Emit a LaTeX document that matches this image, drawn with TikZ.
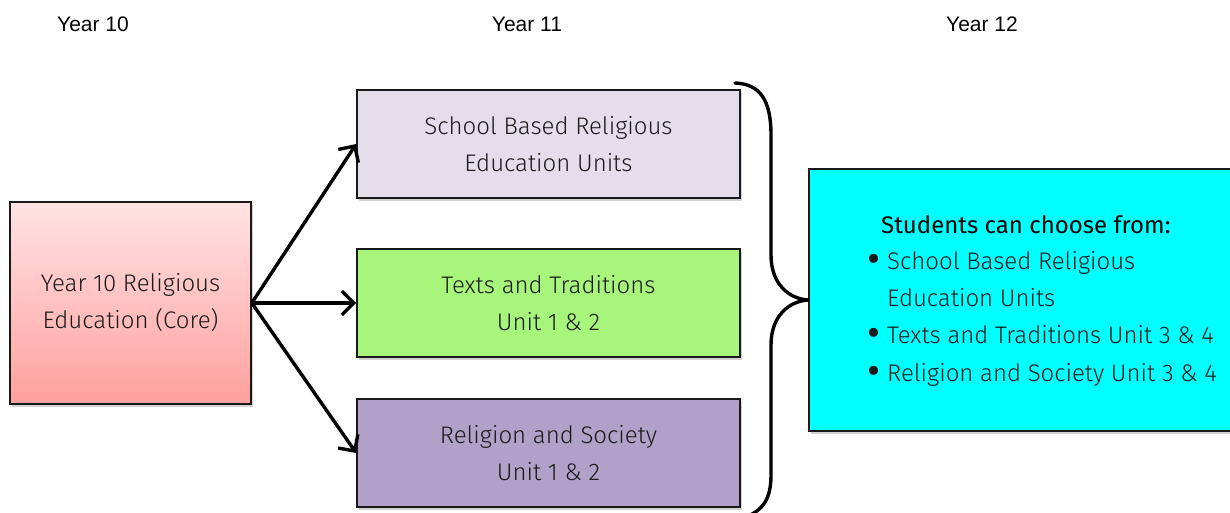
\documentclass[tikz,border=0pt]{standalone}
\usepackage{fontspec}
\setmainfont{Fira Sans}[UprightFont=* Light, BoldFont=*]
\newfontfamily\headfont{Liberation Sans}
\newfontfamily\titlefont{Fira Sans}
\usetikzlibrary{arrows.meta,shadows}
\definecolor{pinktop}{HTML}{FFE3E3}
\definecolor{pinkbot}{HTML}{FFA09E}
\definecolor{lav}{HTML}{E4DEEC}
\definecolor{lgreen}{HTML}{A8F57C}
\definecolor{lpurple}{HTML}{B1A1C9}
\definecolor{aqua}{HTML}{00FFFF}
\definecolor{txt}{HTML}{1A1A1A}
\tikzset{
  box/.style={draw=black!90, line width=1.6pt, inner sep=0pt, align=center,
    text=txt, font=\fontsize{24}{37}\selectfont,
    drop shadow={opacity=0.35, shadow xshift=2pt, shadow yshift=-3pt}},
  arr/.style={line width=3.4pt, -{Straight Barb[length=12pt,width=24pt]}},
  brace/.style={line width=3.4pt, line cap=round},
  head/.style={font=\headfont\fontsize{21}{25}\selectfont, text=black},
  item/.style={anchor=base west, inner sep=0pt, text=txt, font=\fontsize{24}{37}\selectfont}
}
\newcommand{\bul}{\makebox[20pt][l]{\titlefont\fontsize{40}{37}\selectfont\raisebox{-3pt}{•}}}
\begin{document}
\begin{tikzpicture}[x=1pt,y=-1pt]
\useasboundingbox (0,0) rectangle (1230,513);
\fill[white] (0,0) rectangle (1230,513);

\node[head] (h10) at (93,24) {Year 10};
\node[head] (h11) at (527,24) {Year 11};
\node[head] (h12) at (982,24) {Year 12};

\node[box, top color=pinktop, bottom color=pinkbot, minimum width=241pt, minimum height=202pt]
  (core) at (130.5,303) {Year 10 Religious\\Education (Core)};
\node[box, fill=lav, minimum width=383pt, minimum height=108pt]
  (sbre) at (548.5,144) {School Based Religious\\Education Units};
\node[box, fill=lgreen, minimum width=383pt, minimum height=108pt]
  (tt) at (548.5,303) {Texts and Traditions\\Unit 1 \& 2};
\node[box, fill=lpurple, minimum width=383pt, minimum height=108pt]
  (rs) at (548.5,453) {Religion and Society\\Unit 1 \& 2};
\node[box, fill=aqua, minimum width=431pt, minimum height=262pt]
  (choose) at (1024.5,300) {};

\draw[arr] (core.east) -- (sbre.west);
\draw[arr] (core.east) -- (tt.west);
\draw[arr] (core.east) -- (rs.west);

\coordinate (btop) at (735,83);
\coordinate (bbot) at (748,516);
\draw[brace] (btop) .. controls (760,84) and (771,100) .. (771,135)
  -- (771,255) .. controls (771,285) and (790,299) .. (choose.west)
  .. controls (790,301) and (771,315) .. (771,345)
  -- (771,475) .. controls (771,500) and (762,510) .. (bbot);

\node[item, font=\titlefont\fontsize{24}{37}\selectfont, text=black] (title) at (881,233) {Students can choose from:};
\node[item] (i1) at (867,269) {\bul School Based Religious};
\node[item] (i1b) at (887,306.5) {Education Units};
\node[item] (i2) at (867,343.5) {\bul Texts and Traditions Unit 3 \& 4};
\node[item] (i3) at (867,381) {\bul Religion and Society Unit 3 \& 4};
\end{tikzpicture}
\end{document}
